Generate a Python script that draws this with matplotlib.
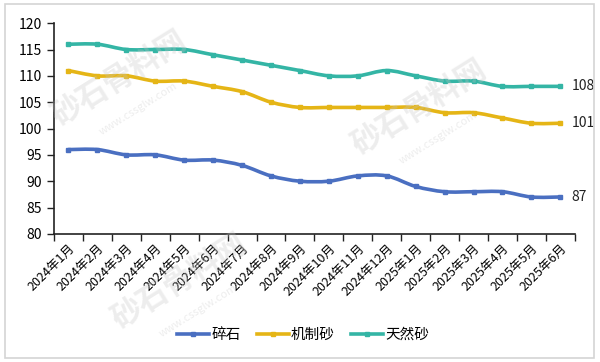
import matplotlib
matplotlib.use("Agg")
import matplotlib.pyplot as plt
import numpy as np
from matplotlib.path import Path
from matplotlib.patches import PathPatch, Rectangle
from matplotlib.lines import Line2D

plt.rcParams["font.family"] = ["Noto Sans CJK SC", "DejaVu Sans"]

months = ["2024年1月", "2024年2月", "2024年3月", "2024年4月", "2024年5月", "2024年6月",
          "2024年7月", "2024年8月", "2024年9月", "2024年10月", "2024年11月", "2024年12月",
          "2025年1月", "2025年2月", "2025年3月", "2025年4月", "2025年5月", "2025年6月"]
crushed = [96, 96, 95, 95, 94, 94, 93, 91, 90, 90, 91, 91, 89, 88, 88, 88, 87, 87]
manufactured = [111, 110, 110, 109, 109, 108, 107, 105, 104, 104, 104, 104, 104, 103, 103, 102, 101, 101]
natural = [116, 116, 115, 115, 115, 114, 113, 112, 111, 110, 110, 111, 110, 109, 109, 108, 108, 108]

series = [("碎石", crushed, "#4a6fc1"),
          ("机制砂", manufactured, "#e5b516"),
          ("天然砂", natural, "#34b5a5")]


def smooth_path(x, y, t=0.17):
    # Excel-style smoothed line: cubic bezier through every point
    x = np.asarray(x, float)
    y = np.asarray(y, float)
    verts = [(x[0], y[0])]
    codes = [Path.MOVETO]
    n = len(x)
    for i in range(n - 1):
        p0 = (x[max(i - 1, 0)], y[max(i - 1, 0)])
        p1 = (x[i], y[i])
        p2 = (x[i + 1], y[i + 1])
        p3 = (x[min(i + 2, n - 1)], y[min(i + 2, n - 1)])
        c1 = (p1[0] + (p2[0] - p0[0]) * t, p1[1] + (p2[1] - p0[1]) * t)
        c2 = (p2[0] - (p3[0] - p1[0]) * t, p2[1] - (p3[1] - p1[1]) * t)
        verts += [c1, c2, p2]
        codes += [Path.CURVE4] * 3
    return Path(verts, codes)


fig = plt.figure(figsize=(6.0, 3.62), dpi=100)
ax = fig.add_axes([0.09, 0.354, 0.868, 0.582])

x = np.arange(len(months))
handles = []
for name, vals, color in series:
    ax.add_patch(PathPatch(smooth_path(x, vals), facecolor="none", edgecolor=color,
                           lw=2.6, capstyle="round", joinstyle="round", zorder=3))
    ax.plot(x, vals, ls="none", marker="s", ms=3.2, color=color, zorder=4)
    ax.annotate(str(vals[-1]), (x[-1], vals[-1]), xytext=(8, 0), textcoords="offset points",
                va="center", ha="left", fontsize=10, color="#222222", annotation_clip=False)
    handles.append(Line2D([], [], color=color, lw=2.6, marker="s", ms=2.5, label=name))

ax.set_xlim(-0.5, len(months) - 0.5)
ax.set_ylim(80, 120)
ax.set_yticks(range(80, 121, 5))
ax.set_xticks(x)
ax.set_xticklabels(months, rotation=45, ha="right", rotation_mode="anchor", fontsize=9)
ax.set_xticks(np.arange(-0.5, len(months), 1.0), minor=True)
ax.tick_params(axis="x", which="major", length=0, pad=6)
ax.tick_params(axis="x", which="minor", length=5, width=1, color="#222222", direction="out")
ax.tick_params(axis="y", labelsize=10, length=5, width=1, color="#222222", direction="out")
for side in ("top", "right"):
    ax.spines[side].set_visible(False)
for side in ("left", "bottom"):
    ax.spines[side].set_color("#222222")
    ax.spines[side].set_linewidth(1.2)

fig.legend(handles=handles, loc="center", bbox_to_anchor=(0.505, 0.075), ncol=3,
           frameon=False, fontsize=10.5, handlelength=2.2, handletextpad=0.15,
           columnspacing=1.1)

# outer frame
fig.patches.append(Rectangle((0.008, 0.011), 0.982, 0.977, transform=fig.transFigure,
                             fill=False, edgecolor="#d4d4d4", lw=1.2))

# faint site watermarks
for wx, wy in [(0.20, 0.78), (0.70, 0.70), (0.30, 0.22)]:
    fig.text(wx, wy, "砂石骨料网", fontsize=22, color="#c4c4c4", alpha=0.3,
             rotation=32, ha="center", va="center", fontweight="bold", zorder=0)
    fig.text(wx + 0.03, wy - 0.08, "www.cssglw.com", fontsize=8, color="#c4c4c4",
             alpha=0.3, rotation=32, ha="center", va="center", zorder=0)

fig.savefig("out.png", dpi=100)
